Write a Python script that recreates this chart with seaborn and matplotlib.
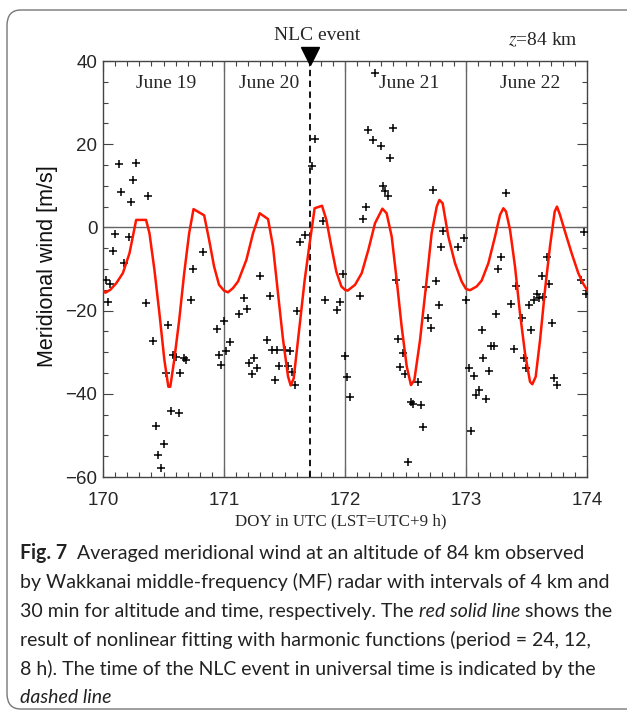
import numpy as np
import pandas as pd
import matplotlib.pyplot as plt
import seaborn as sns
from matplotlib.patches import FancyBboxPatch
from matplotlib.ticker import MultipleLocator

# observed meridional wind (DOY in UTC, m/s)
obs_doy = [
    170.129, 170.274, 170.249, 170.148, 170.230, 170.375, 170.101, 170.211, 170.082, 170.170,
    170.022, 170.060, 170.041, 170.356, 170.827, 170.745, 170.729, 170.411, 170.540, 170.581,
    170.603, 170.666, 170.685, 170.638, 170.521, 170.559, 170.625, 170.436, 170.501, 170.458,
    170.479, 170.940, 170.962, 170.978, 171.000,
    171.755, 171.730, 171.815, 171.667, 171.628, 171.295, 171.377, 171.168, 171.193, 171.127,
    171.606, 171.835, 171.959, 171.937, 171.981, 171.047, 171.019, 171.353, 171.397, 171.438,
    171.507, 171.545, 171.209, 171.251, 171.275, 171.229, 171.455, 171.526, 171.559, 171.419,
    171.587,
    172.248, 172.187, 172.399, 172.229, 172.295, 172.375, 172.317, 172.331, 172.353, 172.171,
    172.146, 172.730, 172.810, 172.793, 172.983, 172.934, 172.419, 172.750, 172.670, 172.775,
    172.688, 172.707, 172.125, 173.003, 172.002, 172.019, 172.043, 172.440, 172.476, 172.457,
    172.498, 172.603, 172.543, 172.565, 172.624, 172.648, 172.521,
    173.332, 173.289, 173.267, 173.410, 173.372, 173.251, 173.129, 173.209, 173.231, 173.142,
    173.186, 173.023, 173.062, 173.106, 173.085, 173.165, 173.041, 173.460, 173.394, 173.478,
    173.499, 173.540, 173.521, 173.561, 173.583, 173.600, 173.640, 173.625, 173.668, 173.690,
    173.710, 173.729, 173.750, 173.978, 173.953, 173.995,
]
obs_wind = [
    15.2, 15.4, 11.5, 8.5, 6.2, 7.5, -1.5, -2.4, -5.6, -8.6,
    -12.6, -13.7, -18.0, -18.1, -6.0, -10.1, -17.4, -27.3, -23.5, -30.6,
    -31.1, -31.5, -31.9, -35.0, -35.0, -44.1, -44.6, -47.8, -52.1, -54.8,
    -57.8, -24.5, -30.6, -33.0, -22.6,
    21.3, 14.7, 1.6, -1.8, -3.5, -11.6, -16.4, -17.0, -19.7, -20.8,
    -20.1, -17.4, -17.9, -19.8, -11.3, -27.6, -29.7, -27.0, -29.5, -29.5,
    -29.5, -29.7, -32.6, -31.5, -33.7, -35.3, -33.2, -33.2, -34.7, -36.7,
    -38.0,
    37.0, 23.5, 24.0, 21.1, 19.5, 16.7, 9.9, 8.7, 7.5, 4.9,
    1.9, 9.0, -0.9, -4.7, -2.6, -4.7, -12.6, -13.0, -14.4, -18.6,
    -21.8, -24.1, -16.4, -17.4, -30.9, -36.0, -40.8, -26.9, -30.2, -33.5,
    -35.2, -37.2, -42.0, -42.5, -42.7, -48.0, -56.3,
    8.3, -7.1, -10.1, -14.1, -18.3, -20.7, -24.6, -28.5, -28.5, -31.4,
    -34.5, -33.9, -35.7, -39.1, -40.4, -41.3, -49.0, -21.7, -29.2, -31.5,
    -33.8, -24.6, -18.6, -17.4, -16.0, -16.9, -16.8, -11.8, -7.1, -13.7,
    -22.9, -36.1, -37.9, -1.1, -12.7, -15.9,
]

# harmonic fit (red line)
fit_doy = [
    170.000, 170.020, 170.060, 170.110, 170.164, 170.219, 170.274, 170.356, 170.384, 170.425,
    170.466, 170.507, 170.540, 170.556, 170.589, 170.630, 170.671, 170.712, 170.748, 170.836,
    170.877, 170.918, 170.959, 171.000, 171.033, 171.074, 171.116, 171.185, 171.240, 171.295,
    171.364, 171.405, 171.446, 171.488, 171.529, 171.551, 171.576, 171.612, 171.667, 171.708,
    171.749, 171.810, 171.846, 171.887, 171.928, 171.970, 172.000, 172.022, 172.083, 172.138,
    172.193, 172.248, 172.309, 172.344, 172.386, 172.427, 172.468, 172.510, 172.545, 172.573,
    172.620, 172.675, 172.716, 172.758, 172.780, 172.807, 172.854, 172.909, 172.964, 173.000,
    173.033, 173.088, 173.129, 173.185, 173.240, 173.281, 173.309, 173.331, 173.364, 173.405,
    173.446, 173.488, 173.529, 173.548, 173.576, 173.612, 173.653, 173.694, 173.733, 173.752,
    173.777, 173.818, 173.873, 173.928, 173.970, 174.000,
]
fit_wind = [
    -15.2, -15.7, -15.0, -13.4, -11.0, -6.2, 1.8, 1.8, -1.4, -10.2,
    -20.6, -31.8, -38.3, -38.3, -31.8, -22.2, -11.0, -1.4, 4.4, 2.9,
    -3.0, -9.4, -13.8, -15.2, -15.6, -14.6, -13.0, -7.8, -1.4, 3.4,
    2.0, -4.6, -15.8, -27.0, -35.8, -38.0, -36.3, -27.0, -12.6, -3.8,
    4.6, 5.2, 1.8, -4.6, -10.6, -14.2, -15.0, -15.2, -13.8, -11.0,
    -5.4, 1.0, 4.5, 3.4, -2.2, -12.6, -23.8, -33.4, -37.9, -36.7,
    -27.1, -12.6, -1.4, 5.0, 6.6, 5.8, -2.2, -8.6, -13.0, -14.8,
    -15.1, -14.2, -12.8, -8.6, -2.2, 3.0, 4.6, 3.8, -0.6, -9.4,
    -20.6, -30.3, -37.1, -37.7, -35.9, -27.1, -15.0, -4.6, 3.8, 5.0,
    3.0, -1.0, -6.2, -11.0, -13.6, -15.0,
]

day_labels = ["June 19", "June 20", "June 21", "June 22"]
day_label_x = [170.52, 171.37, 172.53, 173.53]
day_bounds = [171, 172, 173]
nlc_doy = 171.708

sns.set_style("ticks")
plt.rcParams['font.family'] = ['Liberation Sans', 'DejaVu Sans']
plt.rcParams['mathtext.fontset'] = 'stix'

W, H = 627, 710
fig = plt.figure(figsize=(W / 100, H / 100), dpi=100)
ax = fig.add_axes([103 / W, 1 - 477 / H, 484 / W, 416 / H])

obs = pd.DataFrame({'doy': obs_doy, 'wind': obs_wind})
fit = pd.DataFrame({'doy': fit_doy, 'wind': fit_wind})

ax.axhline(0, color='#666666', lw=1, zorder=1)
for d in day_bounds:
    ax.axvline(d, color='#666666', lw=1, zorder=1)
ax.axvline(nlc_doy, color='black', lw=1.3, ls=(0, (3.5, 2.5)), zorder=2)

sns.scatterplot(data=obs, x='doy', y='wind', marker='+', color='black',
                s=36, linewidth=1.1, ax=ax, zorder=3, legend=False)
sns.lineplot(data=fit, x='doy', y='wind', color='#ff1500', linewidth=1.8,
             estimator=None, sort=False, ax=ax, zorder=4)

ax.set_xlim(170, 174)
ax.set_ylim(-60, 40)
ax.xaxis.set_major_locator(MultipleLocator(1))
ax.xaxis.set_minor_locator(MultipleLocator(0.1))
ax.yaxis.set_major_locator(MultipleLocator(20))
ax.yaxis.set_minor_locator(MultipleLocator(5))
ax.tick_params(which='both', direction='in', top=True, right=True,
               color='#444444', width=0.8, labelsize=13.5)
ax.tick_params(which='major', length=7)
ax.tick_params(which='minor', length=3.6)
ax.tick_params(axis='x', pad=11)
ax.tick_params(axis='y', pad=4)
for sp in ax.spines.values():
    sp.set_color('#444444')
    sp.set_linewidth(1)
ax.set_xlabel('')
ax.set_ylabel('')

serif = ['Liberation Serif', 'DejaVu Serif']
for lx, lab in zip(day_label_x, day_labels):
    ax.text(lx, 34.5, lab, ha='center', va='center', fontsize=14, family=serif)

# NLC event marker
ax.plot([nlc_doy], [41.3], marker='v', ms=13, color='black', clip_on=False, zorder=5)
fig.text(317 / W, 1 - 35 / H, 'NLC event', ha='center', va='center', fontsize=14, family=serif)
fig.text(578 / W, 1 - 40 / H, '$z$=84 km', ha='right', va='center', fontsize=14, family=serif)

fig.text(48 / W, 1 - 266 / H, 'Meridional wind [m/s]', rotation=90, ha='center', va='center',
         fontsize=15.5, color='#111111')
fig.text(341 / W, 1 - 521 / H, 'DOY in UTC (LST=UTC+9 h)', ha='center', va='center',
         fontsize=12.2, family=serif)

# frame around figure + caption
fig.patches.append(FancyBboxPatch((7 / W, 1 - 709 / H), 660 / W, 699 / H,
                                  boxstyle='round,pad=0,rounding_size=0.022',
                                  transform=fig.transFigure, fill=False,
                                  edgecolor='#777777', lw=1, zorder=0))

cap_font = ['Lato', 'DejaVu Sans']
renderer = fig.canvas.get_renderer()


def text_w(s, size, **kw):
    t = fig.text(0, 0, s, fontsize=size, family=cap_font, **kw)
    w = t.get_window_extent(renderer).width
    t.remove()
    return w


probe = 'by Wakkanai middle-frequency (MF) radar with intervals of 4 km and'
cap_size = 13 * 587 / text_w(probe, 13)
space = text_w('a a', cap_size) - text_w('aa', cap_size)

cap_lines = [
    [('Fig. 7', 'normal', 'bold', 2), ('Averaged meridional wind at an altitude of 84 km observed', 'normal', 'normal', 1)],
    [(probe, 'normal', 'normal', 1)],
    [('30 min for altitude and time, respectively. The', 'normal', 'normal', 1),
     ('red solid line', 'italic', 'normal', 1), ('shows the', 'normal', 'normal', 1)],
    [('result of nonlinear fitting with harmonic functions (period = 24, 12,', 'normal', 'normal', 1)],
    [('8 h). The time of the NLC event in universal time is indicated by the', 'normal', 'normal', 1)],
    [('dashed line', 'italic', 'normal', 1)],
]
cap_y = [559, 588, 617, 646, 675, 703]
for yb, runs in zip(cap_y, cap_lines):
    x = 20
    for s, style, weight, gap in runs:
        t = fig.text(x / W, 1 - yb / H, s, fontsize=cap_size, family=cap_font,
                     fontstyle=style, fontweight=weight, va='baseline', color='#222222')
        x = t.get_window_extent(renderer).x1 + gap * space

fig.savefig('out.png', dpi=100)
